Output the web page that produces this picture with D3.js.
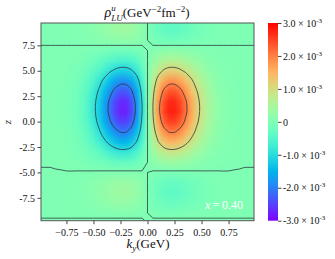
<!DOCTYPE html>
<html>
<head>
<meta charset="utf-8">
<script src="https://cdn.jsdelivr.net/npm/d3@7"></script>
<style>
body { margin: 0; background: #fff; }
</style>
</head>
<body>
<svg id="chart" width="335" height="259"></svg>
<script>
// grid of rho_LU^u values, units of 1e-6 GeV^-2 fm^-2
var kyGrid = [-1, -0.95, -0.9, -0.85, -0.8, -0.75, -0.7, -0.65, -0.6, -0.55, -0.5, -0.45, -0.4, -0.35, -0.3, -0.25, -0.2, -0.15, -0.1, -0.05, 0,
              0.05, 0.1, 0.15, 0.2, 0.25, 0.3, 0.35, 0.4, 0.45, 0.5, 0.55, 0.6, 0.65, 0.7, 0.75, 0.8, 0.85, 0.9, 0.95, 1];
var zGrid = [10, 9, 8, 7, 6, 5, 4, 3, 2, 1, 0, -1, -2, -3, -4, -5, -6, -7, -8, -9, -10];

var rho = [
  [1,1,1,2,4,7,14,25,42,68,104,150,203,257,304,332,332,296,223,120,0,-120,-223,-296,-332,-332,-304,-257,-203,-150,-104,-68,-42,-25,-14,-7,-4,-2,-1,-1,-1],
  [1,1,1,2,4,8,15,28,48,77,117,169,228,289,342,373,373,333,251,135,0,-135,-251,-333,-373,-373,-342,-289,-228,-169,-117,-77,-48,-28,-15,-8,-4,-2,-1,-1,-1],
  [1,1,1,1,2,4,7,12,21,34,52,75,101,129,152,166,166,148,112,60,0,-60,-112,-148,-166,-166,-152,-129,-101,-75,-52,-34,-21,-12,-7,-4,-2,-1,-1,-1,-1],
  [-1,-1,-1,-1,-2,-4,-7,-12,-21,-34,-52,-75,-101,-129,-152,-166,-166,-148,-112,-60,0,60,112,148,166,166,152,129,101,75,52,34,21,12,7,4,2,1,1,1,1],
  [-1,-1,-1,-3,-7,-13,-25,-45,-78,-125,-191,-275,-372,-471,-557,-609,-608,-542,-409,-220,0,220,409,542,608,609,557,471,372,275,191,125,78,45,25,13,7,3,1,1,1],
  [-1,-1,-3,-6,-13,-25,-49,-88,-152,-244,-373,-537,-727,-921,-1088,-1190,-1188,-1060,-799,-430,0,430,799,1060,1188,1190,1088,921,727,537,373,244,152,88,49,25,13,6,3,1,1],
  [-1,-2,-4,-9,-20,-39,-76,-135,-233,-375,-573,-824,-1116,-1414,-1671,-1826,-1824,-1626,-1227,-660,0,660,1227,1626,1824,1826,1671,1414,1116,824,573,375,233,135,76,39,20,9,4,2,1],
  [-1,-2,-5,-12,-26,-50,-97,-173,-298,-480,-733,-1055,-1429,-1810,-2139,-2338,-2335,-2082,-1571,-845,0,845,1571,2082,2335,2338,2139,1810,1429,1055,733,480,298,173,97,50,26,12,5,2,1],
  [-1,-3,-6,-14,-30,-57,-111,-198,-342,-551,-842,-1211,-1640,-2078,-2455,-2683,-2681,-2390,-1803,-970,0,970,1803,2390,2681,2683,2455,2078,1640,1211,842,551,342,198,111,57,30,14,6,3,1],
  [-1,-3,-6,-14,-31,-59,-114,-203,-351,-566,-864,-1243,-1683,-2131,-2519,-2753,-2750,-2452,-1850,-995,0,995,1850,2452,2750,2753,2519,2131,1683,1243,864,566,351,203,114,59,31,14,6,3,1],
  [-1,-2,-6,-13,-28,-53,-104,-185,-319,-514,-786,-1130,-1531,-1939,-2291,-2504,-2501,-2230,-1683,-905,0,905,1683,2230,2501,2504,2291,1939,1531,1130,786,514,319,185,104,53,28,13,6,2,1],
  [-1,-2,-5,-10,-23,-43,-84,-150,-259,-418,-638,-918,-1243,-1574,-1860,-2033,-2031,-1811,-1367,-735,0,735,1367,1811,2031,2033,1860,1574,1243,918,638,418,259,150,84,43,23,10,5,2,1],
  [-1,-1,-3,-7,-16,-31,-61,-108,-187,-301,-460,-662,-896,-1135,-1342,-1466,-1465,-1306,-985,-530,0,530,985,1306,1465,1466,1342,1135,896,662,460,301,187,108,61,31,16,7,3,1,1],
  [-1,-1,-2,-4,-9,-18,-34,-61,-106,-171,-260,-375,-507,-643,-759,-830,-829,-739,-558,-300,0,300,558,739,829,830,759,643,507,375,260,171,106,61,34,18,9,4,2,1,1],
  [-1,-1,-1,-2,-3,-6,-13,-22,-39,-63,-95,-137,-186,-236,-278,-304,-304,-271,-205,-110,0,110,205,271,304,304,278,236,186,137,95,63,39,22,13,6,3,2,1,1,1],
  [1,1,1,1,1,1,2,4,7,11,17,25,34,43,51,55,55,49,37,20,0,-20,-37,-49,-55,-55,-51,-43,-34,-25,-17,-11,-7,-4,-2,-1,-1,-1,-1,-1,-1],
  [1,1,1,2,3,6,13,22,39,63,95,137,186,236,278,304,304,271,205,110,0,-110,-205,-271,-304,-304,-278,-236,-186,-137,-95,-63,-39,-22,-13,-6,-3,-2,-1,-1,-1],
  [1,1,1,2,4,8,15,28,48,77,117,169,228,289,342,373,373,333,251,135,0,-135,-251,-333,-373,-373,-342,-289,-228,-169,-117,-77,-48,-28,-15,-8,-4,-2,-1,-1,-1],
  [1,1,1,1,3,5,10,18,32,51,78,112,152,193,228,249,249,222,167,90,0,-90,-167,-222,-249,-249,-228,-193,-152,-112,-78,-51,-32,-18,-10,-5,-3,-1,-1,-1,-1],
  [1,1,1,1,1,1,2,4,7,11,17,25,34,43,51,55,55,49,37,20,0,-20,-37,-49,-55,-55,-51,-43,-34,-25,-17,-11,-7,-4,-2,-1,-1,-1,-1,-1,-1],
  [-1,-1,-1,-1,-1,-1,-2,-4,-7,-11,-17,-25,-34,-43,-51,-55,-55,-49,-37,-20,0,20,37,49,55,55,51,43,34,25,17,11,7,4,2,1,1,1,1,1,1]
];

var contourLevels = [-2000, -1000, 0, 1000, 2000];
var kyTicks = [-0.75, -0.5, -0.25, 0, 0.25, 0.5, 0.75];
var zTicks = [-7.5, -5, -2.5, 0, 2.5, 5, 7.5];
var cbTicks = [-3, -2, -1, 0, 1, 2, 3];   // x 1e-3

var FONT = "'Liberation Serif', 'Times New Roman', serif";
var plot = {left: 41, top: 23, right: 254, bottom: 220.7};
var svg = d3.select("#chart");

// matplotlib "rainbow"
function rainbow(t) {
    t = Math.max(0, Math.min(1, t));
    var r = Math.min(1, Math.abs(2 * t - 0.5)),
        g = Math.sin(Math.PI * t),
        b = Math.max(0, Math.cos(Math.PI * t / 2));
    return d3.rgb(r * 255, g * 255, b * 255) + "";
}

var x = d3.scaleLinear().domain([-0.985, 0.985]).range([plot.left, plot.right]);
var y = d3.scaleLinear().domain([9.7, -9.75]).range([plot.top, plot.bottom]);
var color = d3.scaleSequential(rainbow).domain([-3000, 3000]);

var nx = kyGrid.length, ny = zGrid.length;
// grid index space (cell centres at i+0.5) -> data coords
var gx = d3.scaleLinear().domain([0.5, nx - 0.5]).range([kyGrid[0], kyGrid[nx - 1]]);
var gy = d3.scaleLinear().domain([0.5, ny - 0.5]).range([zGrid[0], zGrid[ny - 1]]);

svg.append("clipPath").attr("id", "clip")
   .append("rect")
   .attr("x", plot.left).attr("y", plot.top)
   .attr("width", plot.right - plot.left).attr("height", plot.bottom - plot.top);

// heat map
var canvas = document.createElement("canvas");
canvas.width = nx; canvas.height = ny;
var ctx = canvas.getContext("2d");
var img = ctx.createImageData(nx, ny);
rho.forEach(function(row, j) {
    row.forEach(function(v, i) {
        var c = d3.rgb(color(v)), k = 4 * (j * nx + i);
        img.data[k] = c.r; img.data[k + 1] = c.g; img.data[k + 2] = c.b; img.data[k + 3] = 255;
    });
});
ctx.putImageData(img, 0, 0);

var g = svg.append("g").attr("clip-path", "url(#clip)");
g.append("image")
    .attr("href", canvas.toDataURL())
    .attr("x", x(gx(0))).attr("y", y(gy(0)))
    .attr("width", x(gx(nx)) - x(gx(0)))
    .attr("height", y(gy(ny)) - y(gy(0)))
    .attr("preserveAspectRatio", "none");

// contours
var contours = d3.contours().size([nx, ny]).thresholds(contourLevels)(rho.flat());
var toPx = function(p) { return [x(gx(p[0])), y(gy(p[1]))]; };
contours.forEach(function(c) {
    var line = d3.line().curve(c.value === 0 ? d3.curveLinearClosed : d3.curveCatmullRomClosed.alpha(0.5));
    c.coordinates.forEach(function(poly) {
        poly.forEach(function(ring) {
            g.append("path")
                .attr("d", line(ring.slice(0, -1).map(toPx)))
                .attr("fill", "none")
                .attr("stroke", "#263238")
                .attr("stroke-width", 0.85)
                .attr("stroke-opacity", 0.9);
        });
    });
});

// frame
svg.append("rect")
    .attr("x", plot.left).attr("y", plot.top)
    .attr("width", plot.right - plot.left).attr("height", plot.bottom - plot.top)
    .attr("fill", "none").attr("stroke", "#555").attr("stroke-width", 1);

// axes
var xAxis = svg.append("g")
    .attr("transform", "translate(0," + plot.bottom + ")")
    .call(d3.axisBottom(x).tickValues(kyTicks).tickFormat(d3.format(".2f")).tickSize(3.5).tickPadding(4.5));
var yAxis = svg.append("g")
    .attr("transform", "translate(" + plot.left + ",0)")
    .call(d3.axisLeft(y).tickValues(zTicks).tickFormat(function(d) { return d.toFixed(1); }).tickSize(3.5).tickPadding(2.5));
[xAxis, yAxis].forEach(function(a) {
    a.select(".domain").remove();
    a.selectAll(".tick line").attr("stroke", "#444");
    a.selectAll(".tick text").attr("font-size", 10).attr("fill", "#111");
});

// rich text helper: pieces laid out left to right, "stack" puts a piece under the previous one
function richText(parent, pieces, cx, baseline) {
    var tg = parent.append("g");
    var cursor = 0, lastStart = 0;
    pieces.forEach(function(p) {
        var start = p.stack ? lastStart : cursor;
        var t = tg.append("text")
            .attr("x", start).attr("y", baseline + (p.dy || 0))
            .attr("font-size", p.size)
            .attr("font-style", p.italic ? "italic" : null)
            .attr("fill", "#111")
            .style("font-family", FONT)
            .text(p.t);
        var w = t.node().getComputedTextLength();
        if (p.stack) cursor = Math.max(cursor, start + w);
        else { lastStart = start; cursor = start + w; }
    });
    tg.attr("transform", "translate(" + (cx - cursor / 2) + ",0)");
    return tg;
}

richText(svg, [
    {t: "\u03c1", size: 14, italic: true},
    {t: "u", size: 9, dy: -6.5, italic: true},
    {t: "LU", size: 9, dy: 3.5, italic: true, stack: true},
    {t: "(GeV", size: 13},
    {t: "\u22122", size: 9, dy: -5.5},
    {t: "fm", size: 13},
    {t: "\u22122", size: 9, dy: -5.5},
    {t: ")", size: 13}
], 147, 17);

richText(svg, [
    {t: "k", size: 13, italic: true},
    {t: "y", size: 9, dy: 3, italic: true},
    {t: "(GeV)", size: 13}
], 148, 248);

svg.append("text")
    .attr("transform", "translate(11,122) rotate(-90)")
    .attr("text-anchor", "middle")
    .attr("font-size", 11).attr("font-style", "italic").attr("fill", "#111")
    .text("z");

var lab = svg.append("text")
    .attr("x", 243).attr("y", 208.5)
    .attr("text-anchor", "end").attr("font-size", 12)
    .attr("fill", "#fff");
lab.append("tspan").attr("font-style", "italic").text("x");
lab.append("tspan").text("\u2009=\u20090.40");

// colour bar
var cb = {x: 268, w: 10};
var cbScale = d3.scaleLinear().domain([-3, 3]).range([plot.bottom, plot.top]);
var grad = svg.append("defs").append("linearGradient")
    .attr("id", "cbgrad").attr("x1", 0).attr("y1", 1).attr("x2", 0).attr("y2", 0);
d3.range(0, 1.0001, 0.05).forEach(function(t) {
    grad.append("stop").attr("offset", t).attr("stop-color", rainbow(t));
});
svg.append("rect")
    .attr("x", cb.x).attr("y", plot.top)
    .attr("width", cb.w).attr("height", plot.bottom - plot.top)
    .attr("fill", "url(#cbgrad)");

var cbAxis = svg.append("g")
    .attr("transform", "translate(" + (cb.x + cb.w) + ",0)")
    .call(d3.axisRight(cbScale).tickValues(cbTicks).tickSize(3.5).tickPadding(1.5));
cbAxis.select(".domain").remove();
cbAxis.selectAll(".tick line").attr("stroke", "#444");
cbAxis.selectAll(".tick text")
    .attr("font-size", 10).attr("fill", "#111")
    .each(function(d) {
        var t = d3.select(this).text("");
        if (d === 0) { t.text("0"); return; }
        t.append("tspan").text((d < 0 ? "-" : "") + Math.abs(d).toFixed(1) + " \u00d7 10");
        t.append("tspan").attr("dy", -4).attr("font-size", 7).text("-3");
    });

// serif everywhere (axis groups set their own family)
svg.selectAll("text").style("font-family", FONT);
</script>
</body>
</html>
